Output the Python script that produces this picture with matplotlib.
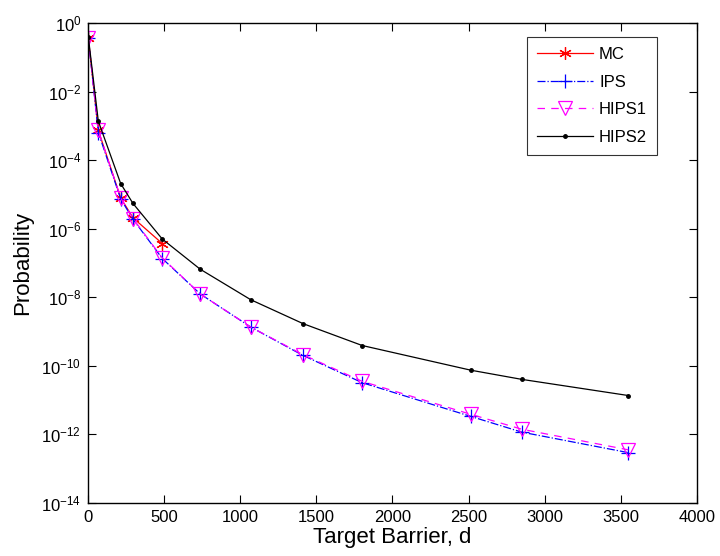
import matplotlib
matplotlib.use("Agg")
import matplotlib.pyplot as plt
from matplotlib.ticker import NullLocator

plt.rcParams['font.family'] = ['Liberation Sans', 'DejaVu Sans']
plt.rcParams['mathtext.fontset'] = 'custom'
plt.rcParams['mathtext.rm'] = 'Liberation Sans'
plt.rcParams['mathtext.it'] = 'Liberation Sans:italic'
plt.rcParams['mathtext.default'] = 'regular'

d_mc = [0, 66, 213, 294, 487]
p_mc = [0.38, 7.5e-4, 8.0e-6, 2.1e-6, 3.7e-7]

d_all = [0, 66, 213, 294, 487, 736, 1068, 1412, 1801, 2516, 2850, 3550]
p_ips = [0.38, 6.5e-4, 7.5e-6, 1.9e-6, 1.35e-7, 1.25e-8, 1.35e-9, 2.0e-10, 3.2e-11, 3.3e-12, 1.15e-12, 2.9e-13]
p_hips1 = [0.38, 7.5e-4, 8.0e-6, 2.0e-6, 1.4e-7, 1.25e-8, 1.35e-9, 2.1e-10, 3.5e-11, 3.8e-12, 1.4e-12, 3.5e-13]
p_hips2 = [0.41, 1.4e-3, 2.1e-5, 5.5e-6, 5.0e-7, 6.6e-8, 8.5e-9, 1.7e-9, 3.9e-10, 7.4e-11, 4.0e-11, 1.35e-11]

fig = plt.figure(figsize=(7.2, 5.56), dpi=100)
ax = fig.add_axes([0.1226, 0.0959, 0.845, 0.862])

ax.plot(d_mc, p_mc, color='red', linestyle='-', linewidth=0.9, marker=(6, 2, 0), markersize=9,
        markeredgewidth=0.9, label='MC')
ax.plot(d_all, p_ips, color='blue', linestyle='-.', linewidth=0.9, marker='+', markersize=10,
        markeredgewidth=0.9, label='IPS')
ax.plot(d_all, p_hips1, color='magenta', linestyle=(0, (6, 5)), linewidth=0.9, marker='v', markersize=10,
        markerfacecolor='none', markeredgewidth=0.9, label='HIPS1')
ax.plot(d_all, p_hips2, color='black', linestyle='-', linewidth=0.9, marker='.', markersize=5,
        label='HIPS2')

ax.set_yscale('log')
ax.set_xlim(0, 4000)
ax.set_ylim(1e-14, 1)
ax.set_xticks([0, 500, 1000, 1500, 2000, 2500, 3000, 3500, 4000])
ax.set_yticks([10.0**e for e in range(-14, 1, 2)])
ax.yaxis.set_minor_locator(NullLocator())
ax.tick_params(direction='in', top=True, right=True, labelsize=12, length=6, width=0.8, pad=5)
for s in ax.spines.values():
    s.set_linewidth(1.0)

ax.set_xlabel('Target Barrier, d', fontsize=16, labelpad=2)
ax.set_ylabel('Probability', fontsize=16, labelpad=6)

leg = ax.legend(loc='upper right', bbox_to_anchor=(0.935, 0.971), borderaxespad=0, fontsize=12,
                frameon=True, fancybox=False, edgecolor='black', handlelength=3.4, borderpad=0.6,
                labelspacing=0.75, handletextpad=0.35)
leg.get_frame().set_linewidth(0.8)

fig.savefig('out.png', dpi=100)
